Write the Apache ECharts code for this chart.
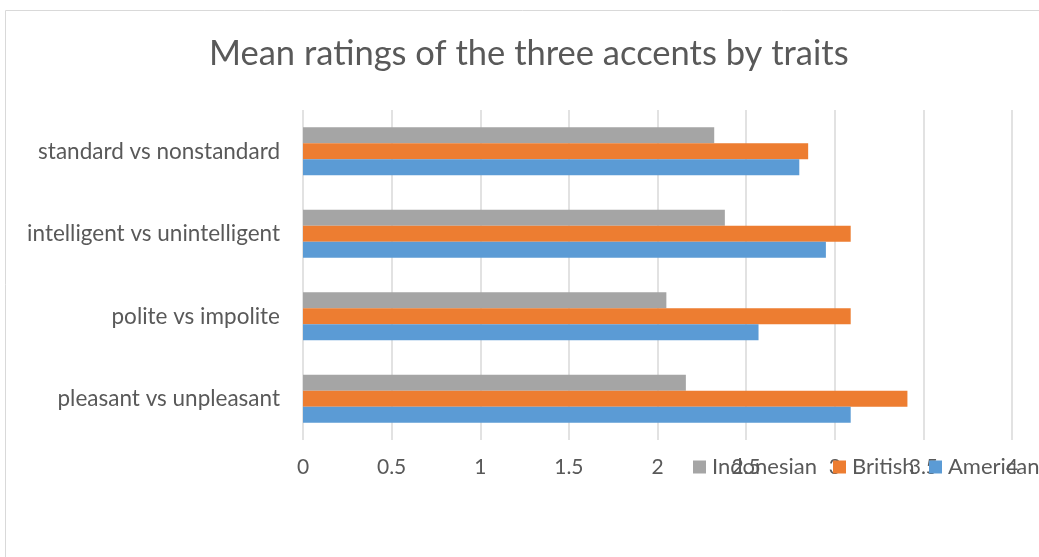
<!DOCTYPE html>
<html>
<head>
<meta charset="utf-8">
<script src="https://cdn.jsdelivr.net/npm/echarts@6/dist/echarts.min.js"></script>
<style>
  html, body { margin: 0; padding: 0; background: #fff; }
  #chart { width: 1039px; height: 557px; }
</style>
</head>
<body>
<div id="chart"></div>
<script>
// traits, bottom to top as drawn
const traits = ['pleasant vs unpleasant', 'polite vs impolite', 'intelligent vs unintelligent', 'standard vs nonstandard']
const american = [3.09, 2.57, 2.95, 2.80]
const british = [3.41, 3.09, 3.09, 2.85]
const indonesian = [2.16, 2.05, 2.38, 2.32]
const xTicks = [0, 0.5, 1, 1.5, 2, 2.5, 3, 3.5, 4]

const font = 'Lato, "Open Sans", sans-serif'
const textColor = '#595959'

// legend entries sit on top of the axis labels, like in the original
function legendItem(name, left) {
  return {
    data: [name],
    left: left,
    top: 456,
    itemWidth: 13,
    itemHeight: 13,
    icon: 'rect',
    padding: 0,
    textStyle: { fontFamily: font, fontSize: 22, color: textColor, padding: [0, 0, 0, 1] }
  }
}

const chart = echarts.init(document.getElementById('chart'))
chart.setOption({
  animation: false,
  title: {
    text: 'Mean ratings of the three accents by traits',
    left: 204,
    top: 31,
    textStyle: { fontFamily: font, fontSize: 34.5, fontWeight: 'normal', color: textColor }
  },
  graphic: [{
    type: 'rect',
    shape: { x: 5.5, y: 10.5, width: 1100, height: 600 },
    style: { fill: 'none', stroke: '#d9d9d9', lineWidth: 1 },
    silent: true
  }],
  legend: [
    legendItem('Indonesian', 693),
    legendItem('British', 833),
    legendItem('American', 929)
  ],
  grid: { left: 303, right: 27, top: 110, bottom: 117, containLabel: false },
  xAxis: {
    type: 'value',
    min: xTicks[0],
    max: xTicks[xTicks.length - 1],
    interval: 0.5,
    axisLine: { show: false },
    axisTick: { show: false },
    axisLabel: { fontFamily: font, fontSize: 21, color: textColor, margin: 17 },
    splitLine: { lineStyle: { color: '#d9d9d9', width: 1.5 } }
  },
  yAxis: {
    type: 'category',
    data: traits,
    axisLine: { show: false },
    axisTick: { show: false },
    axisLabel: { fontFamily: font, fontSize: 22.5, color: textColor, margin: 23 }
  },
  series: [
    { name: 'Indonesian', type: 'bar', data: indonesian, barWidth: 16, barGap: '0%', itemStyle: { color: '#a5a5a5' } },
    { name: 'British', type: 'bar', data: british, barWidth: 16, barGap: '0%', itemStyle: { color: '#ed7d31' } },
    { name: 'American', type: 'bar', data: american, barWidth: 16, barGap: '0%', itemStyle: { color: '#5b9bd5' } }
  ]
})
</script>
</body>
</html>
